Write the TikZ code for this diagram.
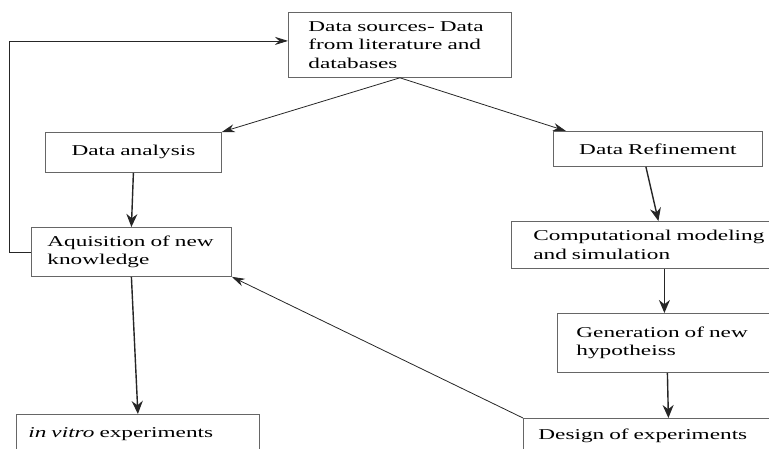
\documentclass[tikz,border=0pt]{standalone}
\usepackage{fontspec}
\setmainfont{Liberation Serif}[FakeStretch=1.55]
\usepackage{tikz}
\usetikzlibrary{positioning, arrows.meta}
\definecolor{boxgray}{rgb}{0.40, 0.40, 0.40}
\definecolor{linegray}{rgb}{0.15, 0.15, 0.15}

\begin{document}
\begin{tikzpicture}[
        x=1pt, y=-1pt,
        every node/.style={font=\fontsize{15}{18.5}\selectfont},
        box/.style={rectangle, draw=boxgray, line width=0.8pt, anchor=north west, align=left, inner ysep=0pt},
        arrow/.style={-{Stealth[length=13pt, width=11pt]}, line width=1.4pt, draw=linegray},
        thinarrow/.style={-{Stealth[length=13pt, width=8pt]}, line width=0.8pt, draw=linegray}
    ]
    \useasboundingbox (0,0) rectangle (769,448);
    \clip (0,0) rectangle (769,448);

    % Boxes
    \node[box, inner xsep=20pt, text width=183pt, minimum height=65pt] (src) at (288,12) {Data sources- Data\\from literature and\\databases};
    \node[box, align=center, inner xsep=0pt, text width=176pt, minimum height=40pt] (analysis) at (45,132) {Data analysis};
    \node[box, align=center, inner xsep=0pt, text width=209pt, minimum height=35pt] (refine) at (553,131) {Data Refinement};
    \node[box, inner xsep=16pt, text width=168pt, minimum height=49pt] (acquire) at (31,227) {Aquisition of new\\knowledge};
    \node[box, inner xsep=12pt, text width=219pt, minimum height=40pt] (invitro) at (16,414) {\textit{in vitro} experiments};
    \node[box, inner xsep=22pt, text width=250pt, minimum height=47pt] (model) at (511,221) {Computational modeling\\and simulation};
    \node[box, inner xsep=19pt, text width=200pt, minimum height=59pt] (hypo) at (557,313) {Generation of new\\hypotheiss};
    \node[box, inner xsep=15pt, text width=240pt, minimum height=34pt] (design) at (523,418) {Design of experiments};

    % Arrows
    \draw[thinarrow] (acquire.west) -- ++(-22,0) |- ([yshift=4pt]src.west);
    \draw[thinarrow] (src.south) -- (analysis.north east);
    \draw[thinarrow] (src.south) -- ([xshift=13pt]refine.north west);
    \draw[arrow] (analysis.south) -- (acquire.north);
    \draw[arrow] (acquire.south) -- (invitro.north);
    \draw[arrow] ([xshift=-12pt]refine.south) -- (model.north);
    \draw[arrow] ([xshift=6pt]model.south) -- ([xshift=-12pt]hypo.north);
    \draw[arrow] ([xshift=-9pt]hypo.south) -- ([xshift=10pt]design.north);
    \draw[thinarrow] (design.north west) -- (acquire.south east);

\end{tikzpicture}
\end{document}
